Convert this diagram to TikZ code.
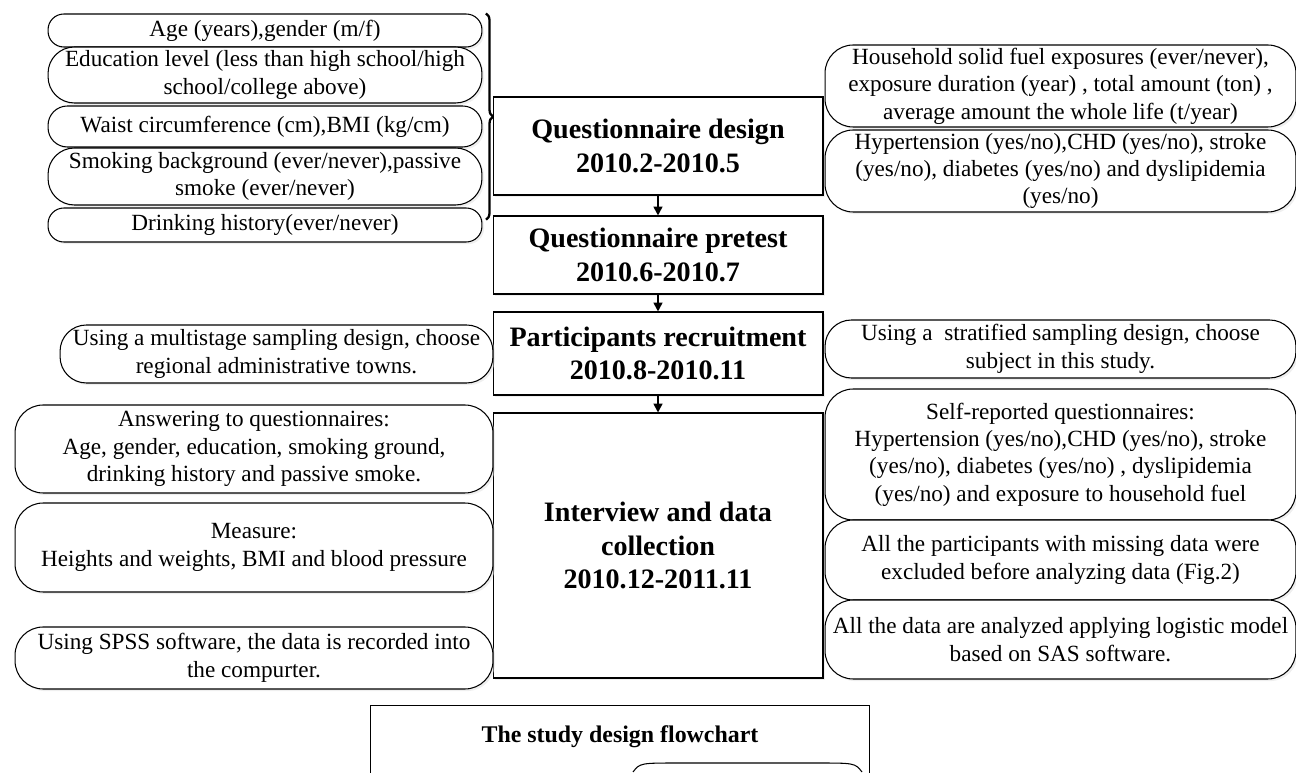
\documentclass[tikz,border=0pt]{standalone}
\usepackage{fontspec}
\setmainfont{Liberation Serif}
\usetikzlibrary{arrows.meta,decorations.pathreplacing,shadows}

\begin{document}
\begin{tikzpicture}[x=0.02cm,y=-0.02cm,
  every node/.style={inner sep=0pt,align=center,font=\fontsize{13.2}{15.6}\selectfont},
  note/.style={draw,fill=white,line width=0.6pt,rounded corners=#1,
    drop shadow={shadow xshift=1.2pt,shadow yshift=-1.2pt,fill=black!12}},
  note/.default=16pt,
  stage/.style={draw,fill=white,line width=0.6pt,minimum width=6.6cm,
    font=\fontsize{16}{19}\selectfont\bfseries,
    drop shadow={shadow xshift=1.2pt,shadow yshift=-1.2pt,fill=black!12}},
  flow/.style={-{Triangle[length=5pt,width=5pt]},line width=1pt}]
  \useasboundingbox (0,0) rectangle (1296,773);
  \clip (0,0) rectangle (1296,773);

  \node[note=9pt,minimum width=8.68cm,minimum height=0.66cm] (age) at (265,30.5) {Age (years),gender (m/f)};
  \node[note=15pt,minimum width=8.68cm,minimum height=1.12cm] (edu) at (265,75) {Education level (less than high school/high\\school/college above)};
  \node[note=11pt,minimum width=8.68cm,minimum height=0.82cm] (waist) at (265,126.5) {Waist circumference (cm),BMI (kg/cm)};
  \node[note=15pt,minimum width=8.68cm,minimum height=1.14cm] (smoke) at (265,176.5) {Smoking background (ever/never),passive\\smoke (ever/never)};
  \node[note=9pt,minimum width=8.68cm,minimum height=0.68cm] (drink) at (265,225) {Drinking history(ever/never)};
  \draw[decorate,decoration={brace,amplitude=4pt},line width=1.3pt]
    ([xshift=2pt]age.north east) -- ([xshift=2pt,yshift=3pt]drink.east);

  \node[stage,minimum height=1.96cm] (design) at (658,146) {Questionnaire design\\2010.2-2010.5};
  \node[stage,minimum height=1.56cm] (pretest) at (658,255) {Questionnaire pretest\\2010.6-2010.7};
  \node[stage,minimum height=1.66cm] (recruit) at (658,353.5) {Participants recruitment\\2010.8-2010.11};
  \node[stage,minimum height=5.3cm] (interview) at (658,545.5) {Interview and data\\collection\\2010.12-2011.11};
  \draw[flow] (design) -- (pretest);
  \draw[flow] (pretest) -- (recruit);
  \draw[flow] (recruit) -- (interview);

  \node[note,minimum width=9.42cm,minimum height=1.64cm] (fuel) at (1060.5,86) {Household solid fuel exposures (ever/never),\\exposure duration (year) , total amount (ton) ,\\average amount the whole life (t/year)};
  \node[note,minimum width=9.42cm,minimum height=1.64cm] (disease) at (1060.5,171) {Hypertension (yes/no),CHD (yes/no), stroke\\(yes/no), diabetes (yes/no) and dyslipidemia\\(yes/no)};
  \node[note=15pt,minimum width=9.42cm,minimum height=1.16cm] (strat) at (1060.5,349) {Using a\ \ stratified sampling design, choose\\subject in this study.};
  \node[note,minimum width=9.42cm,minimum height=2.62cm] (selfrep) at (1060.5,454.5) {Self-reported questionnaires:\\Hypertension (yes/no),CHD (yes/no), stroke\\(yes/no), diabetes (yes/no) , dyslipidemia\\(yes/no) and exposure to household fuel};
  \node[note,minimum width=9.42cm,minimum height=1.6cm] (missing) at (1060.5,560) {All the participants with missing data were\\excluded before analyzing data (Fig.2)};
  \node[note,minimum width=9.42cm,minimum height=1.58cm] (sas) at (1060.5,639.5) {All the data are analyzed applying logistic model\\based on SAS software.};

  \node[note=15pt,minimum width=8.66cm,minimum height=1.16cm] (multi) at (276.5,354) {Using a multistage sampling design, choose\\regional administrative towns.};
  \node[note,minimum width=9.56cm,minimum height=1.76cm] (answer) at (254,449) {Answering to questionnaires:\\Age, gender, education, smoking ground,\\drinking history and passive smoke.};
  \node[note,minimum width=9.56cm,minimum height=1.78cm] (measure) at (254,547.5) {Measure:\\Heights and weights, BMI and blood pressure};
  \node[note,minimum width=9.56cm,minimum height=1.24cm] (spss) at (254,658) {Using SPSS software, the data is recorded into\\the compurter.};

  \node[draw,line width=0.6pt,anchor=north,minimum width=10cm,text height=0.74cm,text depth=2cm,
    font=\fontsize{13.6}{16}\selectfont\bfseries] (chart) at (620,705) {The study design flowchart};
  \draw[line width=0.6pt] (633,772) .. controls (640,763) .. (680,763) -- (815,763) .. controls (855,763) .. (862,772);
\end{tikzpicture}
\end{document}
